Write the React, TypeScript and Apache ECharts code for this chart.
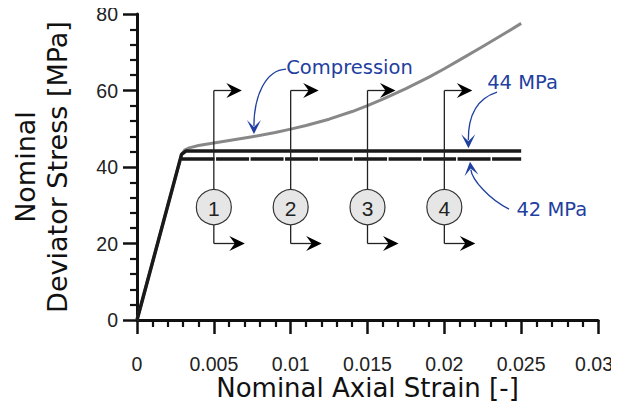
import React, { useEffect, useRef } from "react";
import * as echarts from "echarts";

// ---- Data ----
const compStrain = [0, 0.0029, 0.0031, 0.0034, 0.004, 0.005, 0.006, 0.0075, 0.009, 0.01, 0.011, 0.0125, 0.014, 0.015, 0.016, 0.0175, 0.019, 0.02, 0.021, 0.0225, 0.024, 0.025];
const compStress = [0, 43.3, 44.4, 45.0, 45.6, 46.3, 46.9, 47.9, 49.0, 49.9, 50.85, 52.5, 54.5, 56.05, 57.75, 60.5, 63.5, 65.7, 68.0, 71.5, 75.1, 77.55];

const strain44 = [0, 0.0029, 0.0032, 0.025];
const stress44 = [0, 43.3, 44.2, 44.2];

const strain42 = [0.0029, 0.025];
const stress42 = [42.1, 42.1];

const sectionStrain = [0.005, 0.01, 0.015, 0.02];
const sectionLabels = ["1", "2", "3", "4"];
const sectionTop = 60;
const sectionBottom = 20;
const sectionCircleY = 29.5;

const xTickValues = [0, 0.005, 0.01, 0.015, 0.02, 0.025, 0.03];
const yTickValues = [0, 20, 40, 60, 80];

// annotations: [textX, textY, startX, startY, cp1X, cp1Y, cp2X, cp2Y, tipX, tipY]
const annotationLabels = ["Compression", "44 MPa", "42 MPa"];
const annotationGeom = [
  [0.01383, 66.1, 0.0097, 65.6, 0.0084, 65.4, 0.00761, 58.8, 0.00761, 48.6],
  [0.02509, 62.1, 0.02343, 59.6, 0.02219, 58.0, 0.02154, 53.6, 0.02157, 44.9],
  [0.02699, 28.8, 0.02421, 29.0, 0.02297, 31.4, 0.0218, 36.6, 0.02167, 41.4],
];

const FONT = "DejaVu Sans";
const NUM_FONT = "Liberation Sans";
const BLUE = "#1f40a0";
const INK = "#111";

function zip(a: number[], b: number[]) {
  return a.map((v, i) => [v, b[i]]);
}

function arrowHead(tx: number, ty: number, dx: number, dy: number, len: number, half: number, notch: number) {
  const l = Math.hypot(dx, dy) || 1;
  const ux = dx / l, uy = dy / l;
  const nx = -uy, ny = ux;
  const bx = tx - ux * len, by = ty - uy * len;
  const mx = tx - ux * notch, my = ty - uy * notch;
  return [
    [tx, ty],
    [bx + nx * half, by + ny * half],
    [mx, my],
    [bx - nx * half, by - ny * half],
  ];
}

export default function App() {
  const ref = useRef<HTMLDivElement>(null);
  useEffect(() => {
    if (!ref.current) return;
    const chart = echarts.init(ref.current, null, { renderer: "svg" });
    const lastX = xTickValues[xTickValues.length - 1];
    const fmt = (v: number) => {
      const r = Math.round(v * 1000) / 1000;
      if (!xTickValues.includes(r)) return "";
      return r === lastX ? `{e|${r}}` : String(r);
    };
    const option: any = {
      animation: false,
      backgroundColor: "#fff",
      grid: { left: 137, right: 21, top: 14, bottom: 90, containLabel: false, outerBoundsMode: "none" },
      xAxis: {
        type: "value",
        min: 0,
        max: 0.03,
        interval: 0.005,
        axisLine: { show: true, onZero: false, lineStyle: { color: INK, width: 3 } },
        axisTick: { show: true, length: 14, lineStyle: { color: INK, width: 2.5 } },
        minorTick: { show: true, splitNumber: 5, length: 7, lineStyle: { color: INK, width: 2.2 } },
        splitLine: { show: false },
        minorSplitLine: { show: false },
        axisLabel: {
          formatter: fmt,
          fontFamily: NUM_FONT,
          fontSize: 19.5,
          lineHeight: 20,
          color: "#222",
          margin: 34,
          rich: {
            e: { fontFamily: NUM_FONT, fontSize: 19.5, lineHeight: 20, color: "#222", padding: [0, 8, 0, 0] },
          },
        },
      },
      yAxis: {
        type: "value",
        min: 0,
        max: 80,
        interval: 20,
        axisLine: { show: true, onZero: false, lineStyle: { color: INK, width: 3 } },
        axisTick: { show: true, length: 14, lineStyle: { color: INK, width: 2.5 } },
        minorTick: { show: true, splitNumber: 5, length: 7, lineStyle: { color: INK, width: 2.2 } },
        splitLine: { show: false },
        minorSplitLine: { show: false },
        axisLabel: {
          formatter: (v: number) => (yTickValues.includes(v) ? String(v) : ""),
          fontFamily: NUM_FONT,
          fontSize: 19.5,
          color: "#222",
          margin: 19,
        },
      },
      graphic: [
        {
          type: "text",
          x: 367.5,
          y: 388,
          style: {
            text: "Nominal Axial Strain [-]",
            font: `26px ${FONT}`,
            lineHeight: 28,
            fill: "#111",
            align: "center",
            verticalAlign: "middle",
          },
        },
        {
          type: "text",
          x: 41,
          y: 167,
          rotation: Math.PI / 2,
          style: {
            text: "Nominal\nDeviator Stress [MPa]",
            font: `27px ${FONT}`,
            lineHeight: 32,
            fill: "#111",
            align: "center",
            verticalAlign: "middle",
          },
        },
      ],
      series: [
        {
          type: "line",
          data: zip(compStrain, compStress),
          smooth: false,
          symbol: "none",
          lineStyle: { color: "#888", width: 3, join: "round" },
          z: 2,
        },
        {
          type: "line",
          data: zip(strain44, stress44),
          symbol: "none",
          lineStyle: { color: "#1a1a1a", width: 3.5 },
          z: 3,
        },
        {
          type: "line",
          data: zip(strain42, stress42),
          symbol: "none",
          lineStyle: { color: "#1a1a1a", width: 3.5, type: [33, 1.5] },
          z: 3,
        },
        {
          type: "custom",
          clip: false,
          z: 5,
          data: sectionStrain.map((x, i) => [x, sectionTop, sectionBottom, sectionCircleY, sectionLabels[i]]),
          encode: { x: 0, y: 1 },
          renderItem: (params: any, api: any) => {
            const x = api.value(0);
            const t = api.coord([x, api.value(1)]);
            const b = api.coord([x, api.value(2)]);
            const c = api.coord([x, api.value(3)]);
            const label = sectionLabels[params.dataIndex];
            const r = 17.5;
            const stroke = "#222";
            const topTip = t[0] + 28;
            const botTip = b[0] + 31;
            return {
              type: "group",
              children: [
                { type: "line", shape: { x1: t[0], y1: t[1], x2: t[0], y2: c[1] - r }, style: { stroke, lineWidth: 1.3 } },
                { type: "line", shape: { x1: t[0], y1: c[1] + r, x2: t[0], y2: b[1] }, style: { stroke, lineWidth: 1.3 } },
                { type: "line", shape: { x1: t[0], y1: t[1], x2: topTip - 8, y2: t[1] }, style: { stroke, lineWidth: 1.3 } },
                { type: "line", shape: { x1: b[0], y1: b[1], x2: botTip - 8, y2: b[1] }, style: { stroke, lineWidth: 1.3 } },
                { type: "polygon", shape: { points: arrowHead(topTip, t[1], 1, 0, 15.5, 7.5, 10) }, style: { fill: "#000" } },
                { type: "polygon", shape: { points: arrowHead(botTip, b[1], 1, 0, 15.5, 7.5, 10) }, style: { fill: "#000" } },
                { type: "circle", shape: { cx: c[0], cy: c[1], r }, style: { fill: "#e6e6e6", stroke: "#333", lineWidth: 1.2 } },
                {
                  type: "text",
                  style: {
                    text: label,
                    x: c[0],
                    y: c[1] + 1,
                    align: "center",
                    verticalAlign: "middle",
                    font: `21px ${NUM_FONT}`,
                    fill: "#222",
                  },
                },
              ],
            };
          },
        },
        {
          type: "custom",
          clip: false,
          z: 6,
          data: annotationGeom.map((g) => g.slice()),
          encode: { x: 0, y: 1 },
          renderItem: (params: any, api: any) => {
            const g = annotationGeom[params.dataIndex];
            const txt = api.coord([g[0], g[1]]);
            const s = api.coord([g[2], g[3]]);
            const c1 = api.coord([g[4], g[5]]);
            const c2 = api.coord([g[6], g[7]]);
            const tip = api.coord([g[8], g[9]]);
            const head = arrowHead(tip[0], tip[1], tip[0] - c2[0], tip[1] - c2[1], 14, 7, 7);
            const ux = tip[0] - c2[0], uy = tip[1] - c2[1];
            const l = Math.hypot(ux, uy) || 1;
            const ex = tip[0] - (ux / l) * 8, ey = tip[1] - (uy / l) * 8;
            return {
              type: "group",
              children: [
                {
                  type: "bezierCurve",
                  shape: { x1: s[0], y1: s[1], cpx1: c1[0], cpy1: c1[1], cpx2: c2[0], cpy2: c2[1], x2: ex, y2: ey },
                  style: { stroke: BLUE, lineWidth: 1.3, fill: "none" },
                },
                { type: "polygon", shape: { points: head }, style: { fill: BLUE } },
                {
                  type: "text",
                  style: {
                    text: annotationLabels[params.dataIndex],
                    x: txt[0],
                    y: txt[1],
                    align: "center",
                    verticalAlign: "middle",
                    font: `19.5px ${FONT}`,
                    fill: BLUE,
                  },
                },
              ],
            };
          },
        },
      ],
    };
    chart.setOption(option);
    return () => chart.dispose();
  }, []);
  return <div ref={ref} style={{ width: 619, height: 410, margin: -8 }} />;
}
